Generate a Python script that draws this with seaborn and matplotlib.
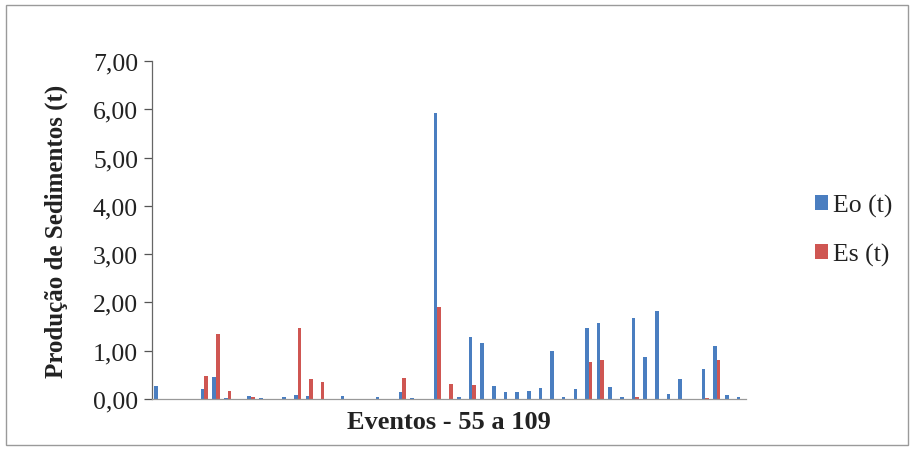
import matplotlib
matplotlib.use("Agg")
import matplotlib.pyplot as plt
from matplotlib.patches import Rectangle
from matplotlib.ticker import FuncFormatter, MultipleLocator
import seaborn as sns
import pandas as pd

# Sediment yield per rainfall event (tonnes)
eventos = [str(n) for n in range(55, 106)]
eo_t = [0.27, 0.01, 0.01, 0.01, 0.21, 0.45, 0.02, 0.00, 0.07, 0.02,
        0.01, 0.04, 0.08, 0.06, 0.00, 0.00, 0.07, 0.00, 0.01, 0.04,
        0.01, 0.15, 0.03, 0.00, 5.92, 0.00, 0.04, 1.28, 1.15, 0.26,
        0.14, 0.15, 0.17, 0.23, 1.00, 0.05, 0.20, 1.47, 1.57, 0.25,
        0.05, 1.68, 0.88, 1.83, 0.10, 0.42, 0.00, 0.62, 1.09, 0.08,
        0.05]
es_t = [0.00, 0.00, 0.00, 0.00, 0.48, 1.35, 0.17, 0.01, 0.04, 0.00,
        0.00, 0.01, 1.47, 0.42, 0.35, 0.00, 0.01, 0.00, 0.00, 0.01,
        0.00, 0.43, 0.01, 0.00, 1.90, 0.32, 0.00, 0.30, 0.00, 0.00,
        0.00, 0.00, 0.00, 0.00, 0.00, 0.00, 0.00, 0.77, 0.80, 0.00,
        0.00, 0.05, 0.00, 0.00, 0.00, 0.00, 0.00, 0.02, 0.81, 0.00,
        0.00]
series = ["Eo (t)", "Es (t)"]
cores = ["#4a7ec0", "#cf5652"]

df = pd.DataFrame({
    "evento": eventos * 2,
    "valor": eo_t + es_t,
    "serie": [series[0]] * len(eventos) + [series[1]] * len(eventos),
})

sns.set_theme(style="white")
plt.rcParams["font.family"] = ["Liberation Serif", "DejaVu Serif"]

W, H = 914, 452
fig = plt.figure(figsize=(W / 100, H / 100), dpi=100)
ax = fig.add_axes([152 / W, 1 - 400 / H, (746 - 152) / W, (400 - 62) / H])

sns.barplot(data=df, x="evento", y="valor", hue="serie", order=eventos,
            hue_order=series, palette=cores, width=0.62, saturation=1,
            edgecolor="none", linewidth=0, ax=ax, legend=False)

ax.set_ylim(0, 7)
ax.set_xlim(-0.5, len(eventos) - 0.5)
ax.yaxis.set_major_locator(MultipleLocator(1))
ax.yaxis.set_major_formatter(FuncFormatter(lambda v, _: f"{v:.2f}".replace(".", ",")))
ax.tick_params(axis="y", which="major", left=True, length=6, width=0.9,
               color="#555555", labelsize=18.5, pad=4, labelcolor="#222222")
ax.tick_params(axis="x", bottom=False, labelbottom=False)

for side in ("top", "right"):
    ax.spines[side].set_visible(False)
ax.spines["left"].set_color("#666666")
ax.spines["left"].set_linewidth(0.9)
ax.spines["bottom"].set_color("#999999")
ax.spines["bottom"].set_linewidth(0.9)

ax.set_ylabel("Produção de Sedimentos (t)", fontsize=18, fontweight="bold",
              color="#222222", labelpad=18)
ax.set_xlabel("Eventos - 55 a 109", fontsize=19, fontweight="bold",
              color="#222222", labelpad=8)

handles = [Rectangle((0, 0), 1, 1, facecolor=c, edgecolor="none") for c in cores]
fig.legend(handles, series, loc="center left", bbox_to_anchor=(792 / W, 1 - 231 / H),
           frameon=False, fontsize=18.5, handlelength=0.5, handleheight=0.5,
           handletextpad=0.2, labelspacing=1.0, labelcolor="#222222")

# thin frame around the whole chart area
fig.patches.append(Rectangle((6 / W, 6 / H), 1 - 12 / W, 1 - 12 / H,
                             transform=fig.transFigure, fill=False,
                             edgecolor="#9a9a9a", linewidth=1.0))

fig.savefig("out.png", dpi=100)
